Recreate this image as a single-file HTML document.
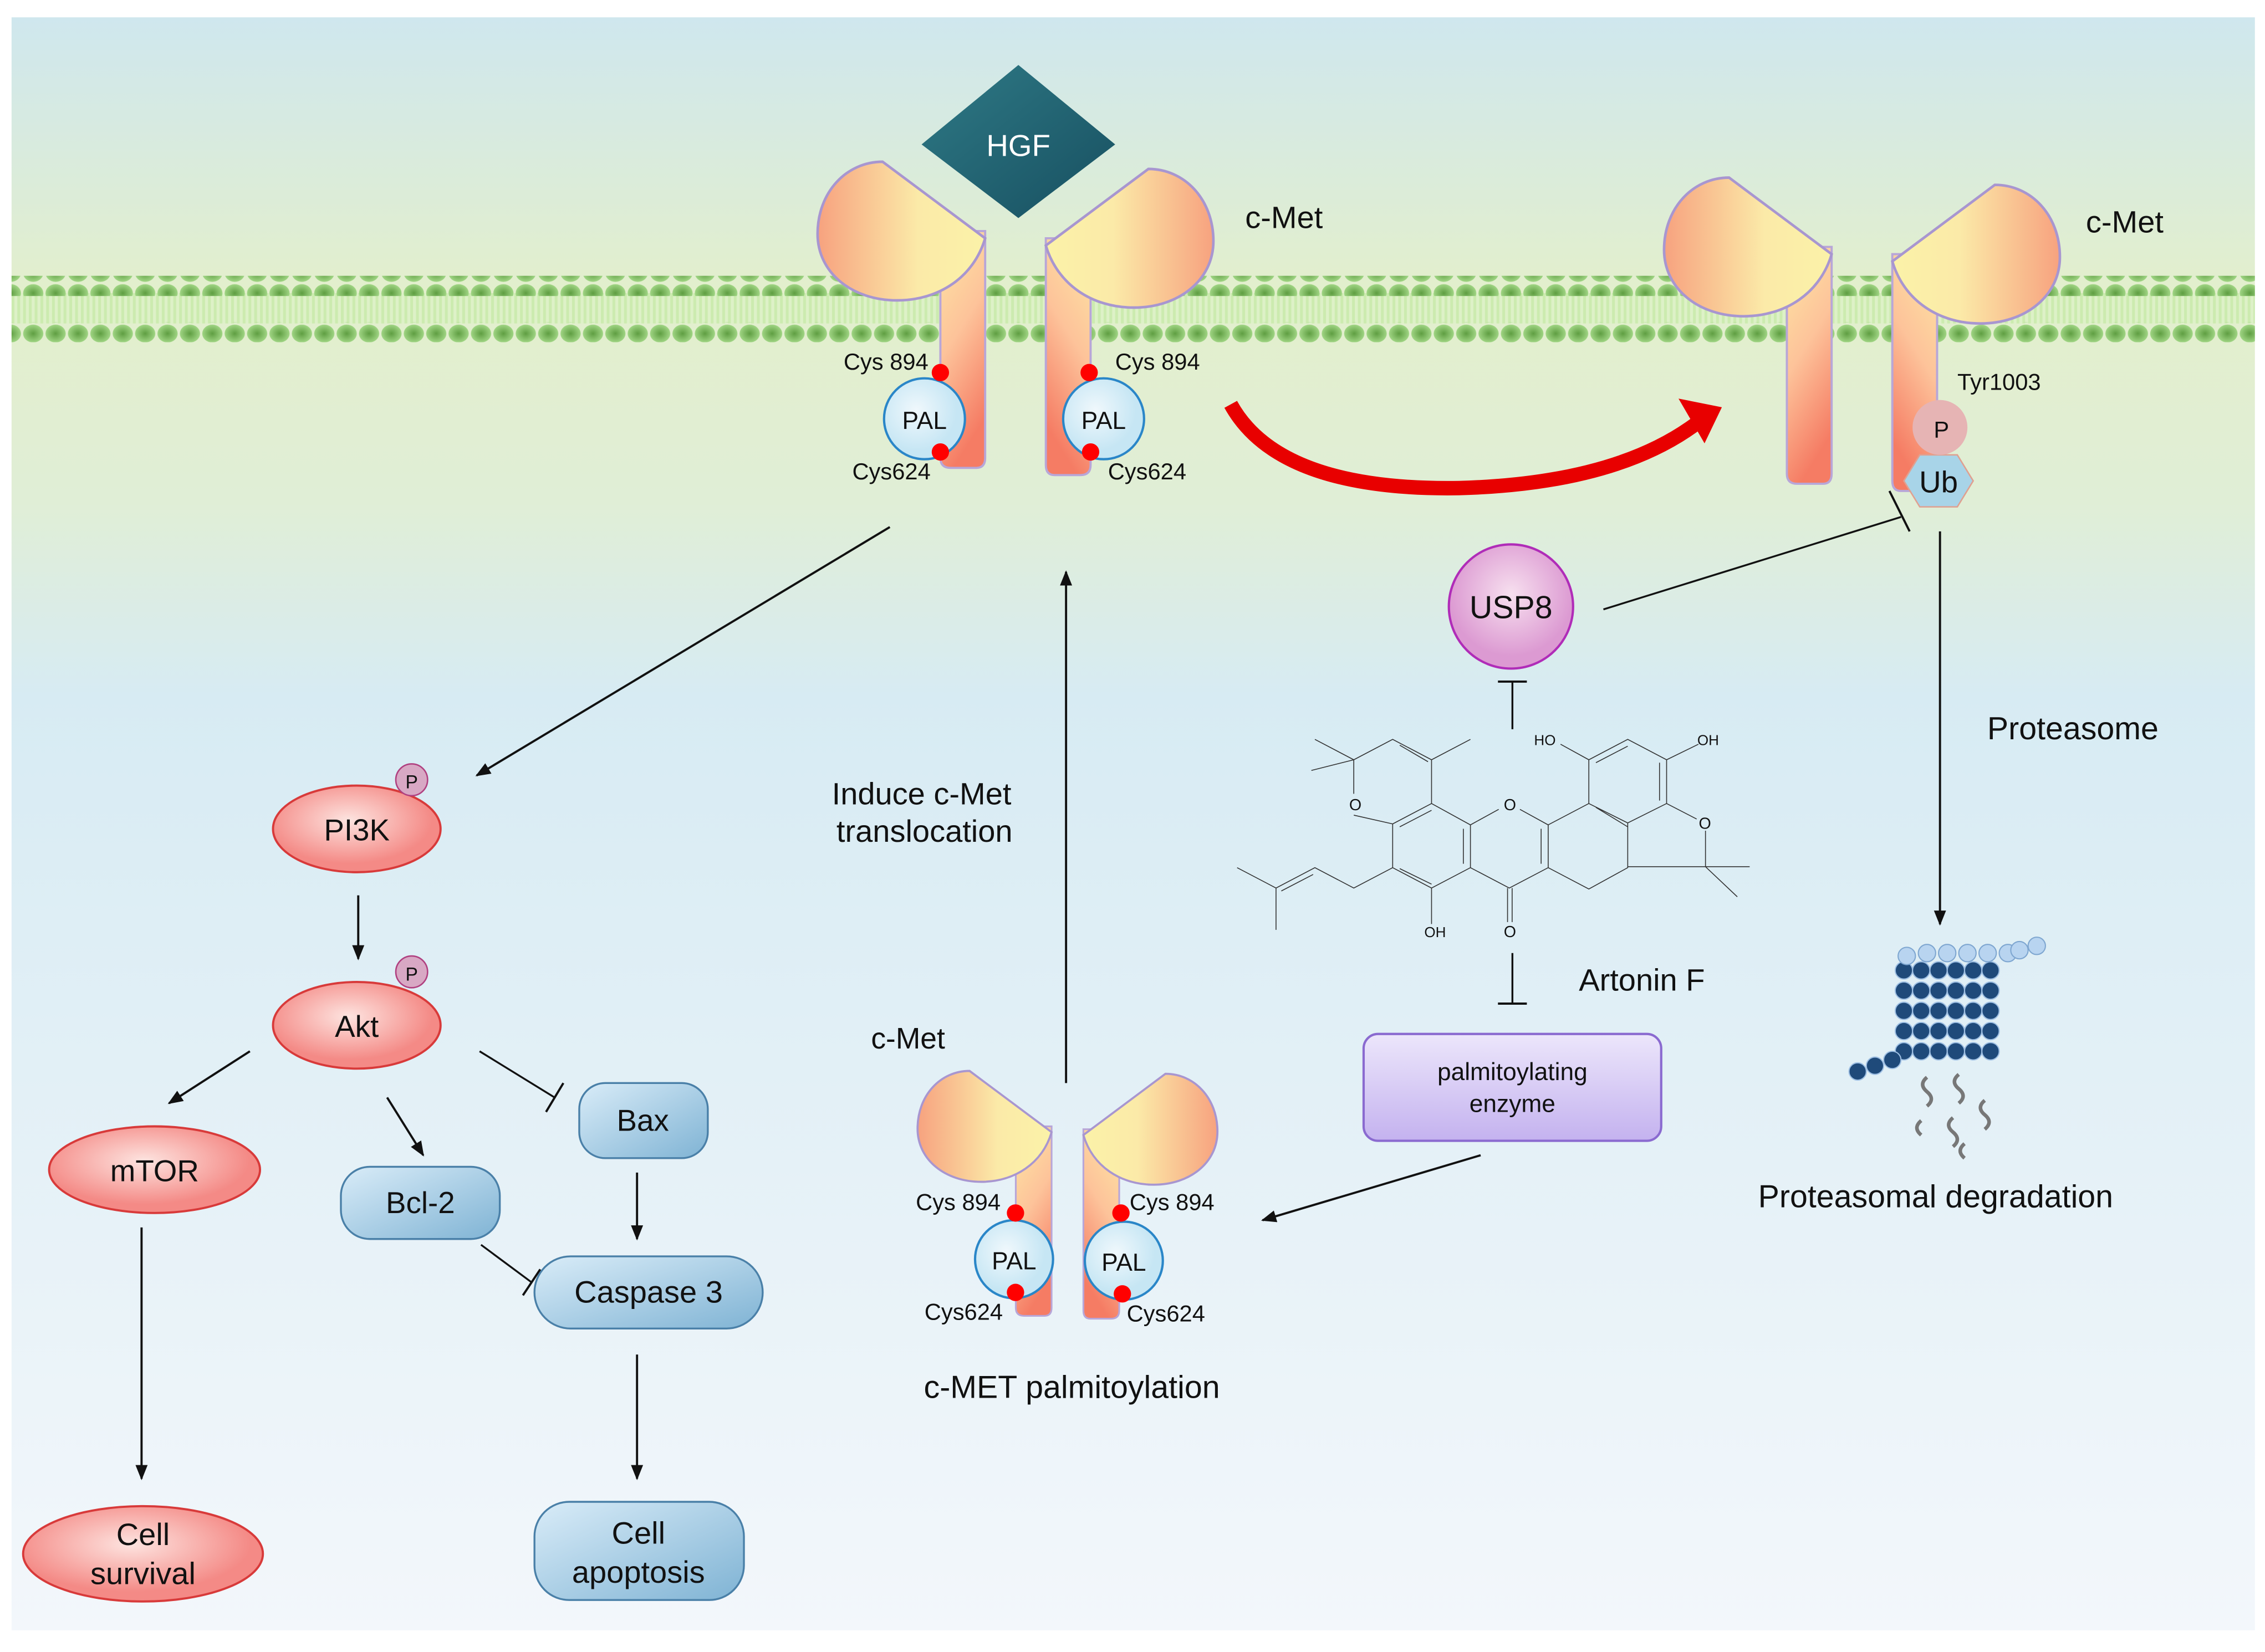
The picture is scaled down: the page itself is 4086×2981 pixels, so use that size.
<!DOCTYPE html>
<html><head><meta charset="utf-8"><style>
html,body{margin:0;padding:0;background:#fff}
svg{display:block}
text{font-family:"Liberation Sans",Arial,sans-serif;fill:#111}
</style></head><body>
<svg width="4086" height="2981" viewBox="0 0 1568 1144" preserveAspectRatio="none" xmlns="http://www.w3.org/2000/svg">
<defs>
<linearGradient id="bg" x1="0" y1="0" x2="0" y2="1">
<stop offset="0" stop-color="#cfe7ee"/><stop offset="0.17" stop-color="#e3efcc"/><stop offset="0.3" stop-color="#e0eed6"/><stop offset="0.42" stop-color="#d7ebf3"/><stop offset="1" stop-color="#f3f7fb"/>
</linearGradient>
<radialGradient id="dot"><stop offset="0" stop-color="#5f9e42"/><stop offset="1" stop-color="#a0d584"/></radialGradient>
<pattern id="mem" x="0" y="0" width="15.5" height="14" patternUnits="userSpaceOnUse"><ellipse cx="7.5" cy="7" rx="7" ry="6.2" fill="url(#dot)"/></pattern>
<pattern id="tail" x="0" y="0" width="4" height="20" patternUnits="userSpaceOnUse"><rect width="2" height="20" fill="#c6eaa8"/><rect x="2" width="2" height="20" fill="#dcf1c6"/></pattern>
<linearGradient id="head" x1="0" y1="0" x2="1" y2="0"><stop offset="0" stop-color="#f7a27f"/><stop offset="0.6" stop-color="#fbeaa8"/><stop offset="1" stop-color="#fbf2a8"/></linearGradient>
<linearGradient id="stem" x1="0" y1="0" x2="0.3" y2="1"><stop offset="0" stop-color="#fde7a4"/><stop offset="0.5" stop-color="#fdc39a"/><stop offset="1" stop-color="#f57c64"/></linearGradient>
<radialGradient id="pal" cx="0.4" cy="0.4"><stop offset="0" stop-color="#f0f8fc"/><stop offset="1" stop-color="#c6e6f4"/></radialGradient>
<linearGradient id="hgf" x1="0" y1="0" x2="1" y2="1"><stop offset="0" stop-color="#2f7a86"/><stop offset="1" stop-color="#174f60"/></linearGradient>
<radialGradient id="red" cx="0.45" cy="0.4"><stop offset="0" stop-color="#fde4e0"/><stop offset="1" stop-color="#f48a86"/></radialGradient>
<linearGradient id="blue" x1="0" y1="0" x2="1" y2="1"><stop offset="0" stop-color="#d9ecf8"/><stop offset="1" stop-color="#7fb3d4"/></linearGradient>
<radialGradient id="usp" cx="0.5" cy="0.4"><stop offset="0" stop-color="#f7e0ef"/><stop offset="1" stop-color="#dc9ad2"/></radialGradient>
<linearGradient id="pe" x1="0" y1="0" x2="0" y2="1"><stop offset="0" stop-color="#ece6fb"/><stop offset="1" stop-color="#c4b2ef"/></linearGradient>
<marker id="ar" viewBox="0 0 10 10" refX="9" refY="5" markerWidth="7" markerHeight="7" orient="auto-start-reverse"><path d="M0,1 L10,5 L0,9 Z" fill="#111"/></marker>
<g id="rec">
 <path d="M-31,-5 L-31,152 Q-31,159 -24,159 L-6,159 Q0,159 0,152 L0,-5 Z" fill="url(#stem)" stroke="#b8a6d8" stroke-width="1.5"/>
 <path d="M-71,-53 L0,0 C-8,27 -32,43 -61,43 C-92,43 -116,24 -116,-3 C-116,-32 -96,-53 -71,-53 Z" fill="url(#head)" stroke="#a896d0" stroke-width="1.8"/>
</g>
</defs>
<rect width="1568" height="1144" fill="#fff"/>
<rect x="8" y="12" width="1553" height="1117" fill="url(#bg)"/>
<rect x="8" y="203" width="1553" height="21" fill="url(#tail)" opacity="0.8"/>
<rect x="8" y="191" width="1553" height="14" fill="url(#mem)"/>
<rect x="8" y="223" width="1553" height="14" fill="url(#mem)"/>

<polygon points="705,45 772,100 705,151 638,100" fill="url(#hgf)"/>
<text x="705" y="108" font-size="21" text-anchor="middle" style="fill:#fff">HGF</text>

<use href="#rec" transform="translate(682,165)"/>
<use href="#rec" transform="translate(724,170) scale(-1,1)"/>
<text x="862" y="158" font-size="21.5">c-Met</text>
<circle cx="640" cy="290" r="28" fill="url(#pal)" stroke="#2a86c8" stroke-width="1.6"/>
<circle cx="764" cy="290" r="28" fill="url(#pal)" stroke="#2a86c8" stroke-width="1.6"/>
<text x="640" y="297" font-size="17" text-anchor="middle">PAL</text>
<text x="764" y="297" font-size="17" text-anchor="middle">PAL</text>
<circle cx="651" cy="258" r="6" fill="#f00"/><circle cx="651" cy="313" r="6" fill="#f00"/>
<circle cx="754" cy="258" r="6" fill="#f00"/><circle cx="755" cy="313" r="6" fill="#f00"/>
<text x="584" y="256" font-size="16">Cys 894</text>
<text x="590" y="332" font-size="16">Cys624</text>
<text x="772" y="256" font-size="16">Cys 894</text>
<text x="767" y="332" font-size="16">Cys624</text>

<path d="M852,280 Q885,340 1010,338 Q1120,335 1176,292" fill="none" stroke="#e80000" stroke-width="10"/>
<polygon points="1162,276 1192,282 1180,307" fill="#e80000"/>

<use href="#rec" transform="translate(1268,176)"/>
<use href="#rec" transform="translate(1310,181) scale(-1,1)"/>
<text x="1444" y="161" font-size="21.5">c-Met</text>
<text x="1355" y="270" font-size="16">Tyr1003</text>
<polygon points="1329,315 1355,315 1366,333 1355,351 1329,351 1318,333" fill="#a8d4e8" stroke="#e0a090" stroke-width="1"/>
<text x="1342" y="341" font-size="21" text-anchor="middle">Ub</text>
<circle cx="1343" cy="296" r="19" fill="#e6b4b4"/>
<text x="1344" y="303" font-size="16" text-anchor="middle">P</text>

<line x1="1110" y1="422" x2="1316" y2="358" stroke="#111" stroke-width="1.3"/>
<line x1="1308" y1="340" x2="1322" y2="368" stroke="#111" stroke-width="1.5"/>
<circle cx="1046" cy="420" r="43" fill="url(#usp)" stroke="#b02cb8" stroke-width="1.6"/>
<text x="1046" y="428" font-size="22" text-anchor="middle">USP8</text>
<line x1="1047" y1="505" x2="1047" y2="472" stroke="#111" stroke-width="1.3"/>
<line x1="1037" y1="472" x2="1057" y2="472" stroke="#111" stroke-width="1.5"/>

<g transform="translate(844.2,479.7) scale(0.2447,0.1346)" fill="none" stroke="#333" stroke-width="1.6">
<path vector-effect="non-scaling-stroke" d="M380,345 L490,240 L600,345 L600,570 M380,345 L380,520 M380,630 L490,675 M380,345 L270,240 M380,345 L260,400 M600,345 L710,240 M510,270 L590,355"/>
<path vector-effect="non-scaling-stroke" d="M600,570 L710,680 L710,900 L600,1005 L490,900 L490,675 L600,570 M510,690 L600,605 M690,700 L690,880 M510,905 L600,985"/>
<path vector-effect="non-scaling-stroke" d="M710,680 L790,600 M850,600 L930,680 L930,900 L820,1005 L710,900 M910,700 L910,880 M815,1005 L815,1180 M828,1005 L828,1180"/>
<path vector-effect="non-scaling-stroke" d="M930,680 L1045,570 L1045,345 L1155,240 L1265,345 L1265,570 L1155,670 L1045,570 M1065,360 L1155,275 M1245,360 L1245,555 M1065,590 L1155,690 M1045,345 L965,265 M1265,345 L1355,265"/>
<path vector-effect="non-scaling-stroke" d="M930,900 L1045,1010 L1155,900 L1155,670 M1265,570 L1350,650 M1375,710 L1375,895 L1155,895 M1375,895 L1500,895 M1375,895 L1465,1050"/>
<path vector-effect="non-scaling-stroke" d="M490,900 L380,1005 L270,900 L160,1005 L50,900 M160,1005 L160,1220 M265,935 L175,1020 M600,1005 L600,1190"/>
</g>
<text x="1062" y="516" font-size="10">HO</text>
<text x="1175" y="516" font-size="10">OH</text>
<text x="986" y="649" font-size="10">OH</text>
<text x="934" y="561" font-size="11">O</text>
<text x="1041" y="561" font-size="11">O</text>
<text x="1176" y="574" font-size="11">O</text>
<text x="1041" y="649" font-size="11">O</text>
<text x="1093" y="686" font-size="21.5">Artonin F</text>

<line x1="1047" y1="660" x2="1047" y2="695" stroke="#111" stroke-width="1.3"/>
<line x1="1037" y1="695" x2="1057" y2="695" stroke="#111" stroke-width="1.5"/>
<rect x="944" y="716" width="206" height="74" rx="10" fill="url(#pe)" stroke="#8a6ad0" stroke-width="1.6"/>
<text x="1047" y="748" font-size="17" text-anchor="middle">palmitoylating</text>
<text x="1047" y="770" font-size="17" text-anchor="middle">enzyme</text>
<line x1="1025" y1="800" x2="874" y2="845" stroke="#111" stroke-width="1.5" marker-end="url(#ar)"/>

<line x1="1343" y1="368" x2="1343" y2="640" stroke="#111" stroke-width="1.5" marker-end="url(#ar)"/>
<text x="1435" y="512" font-size="22" text-anchor="middle">Proteasome</text>
<g>
<g fill="#1f4a7a" stroke="#9fc0e4" stroke-width="0.8">
<circle cx="1318" cy="672" r="6"/><circle cx="1330" cy="672" r="6"/><circle cx="1342" cy="672" r="6"/><circle cx="1354" cy="672" r="6"/><circle cx="1366" cy="672" r="6"/><circle cx="1378" cy="672" r="6"/>
<circle cx="1318" cy="686" r="6"/><circle cx="1330" cy="686" r="6"/><circle cx="1342" cy="686" r="6"/><circle cx="1354" cy="686" r="6"/><circle cx="1366" cy="686" r="6"/><circle cx="1378" cy="686" r="6"/>
<circle cx="1318" cy="700" r="6"/><circle cx="1330" cy="700" r="6"/><circle cx="1342" cy="700" r="6"/><circle cx="1354" cy="700" r="6"/><circle cx="1366" cy="700" r="6"/><circle cx="1378" cy="700" r="6"/>
<circle cx="1318" cy="714" r="6"/><circle cx="1330" cy="714" r="6"/><circle cx="1342" cy="714" r="6"/><circle cx="1354" cy="714" r="6"/><circle cx="1366" cy="714" r="6"/><circle cx="1378" cy="714" r="6"/>
<circle cx="1318" cy="728" r="6"/><circle cx="1330" cy="728" r="6"/><circle cx="1342" cy="728" r="6"/><circle cx="1354" cy="728" r="6"/><circle cx="1366" cy="728" r="6"/><circle cx="1378" cy="728" r="6"/>
<circle cx="1286" cy="742" r="6"/><circle cx="1298" cy="738" r="6"/><circle cx="1310" cy="734" r="6"/>
</g>
<g fill="#b8d4f0" stroke="#7ea6d0" stroke-width="0.8">
<circle cx="1320" cy="662" r="6"/><circle cx="1334" cy="660" r="6"/><circle cx="1348" cy="660" r="6"/><circle cx="1362" cy="660" r="6"/><circle cx="1376" cy="660" r="6"/><circle cx="1390" cy="660" r="6"/><circle cx="1398" cy="658" r="6"/><circle cx="1410" cy="655" r="6"/>
</g>
<g fill="none" stroke="#777" stroke-width="2.5">
<path d="M1334,746 q-6,5 0,10 q6,5 0,10"/><path d="M1356,744 q-6,5 0,10 q6,5 0,10"/><path d="M1374,762 q-6,5 0,10 q6,5 0,10"/>
<path d="M1330,776 q-6,5 0,10"/><path d="M1352,774 q-6,5 0,10 q6,5 0,10"/><path d="M1360,792 q-6,5 0,10"/>
</g>
</g>
<text x="1340" y="836" font-size="22" text-anchor="middle">Proteasomal degradation</text>

<line x1="738" y1="750" x2="738" y2="396" stroke="#111" stroke-width="1.5" marker-end="url(#ar)"/>
<text x="638" y="557" font-size="21.5" text-anchor="middle">Induce c-Met</text>
<text x="640" y="583" font-size="21.5" text-anchor="middle">translocation</text>
<use href="#rec" transform="translate(728,784) scale(0.8)"/>
<use href="#rec" transform="translate(750,786) scale(-0.8,0.8)"/>
<text x="603" y="726" font-size="20.5">c-Met</text>
<circle cx="702" cy="872" r="27" fill="url(#pal)" stroke="#2a86c8" stroke-width="1.6"/>
<circle cx="778" cy="873" r="27" fill="url(#pal)" stroke="#2a86c8" stroke-width="1.6"/>
<text x="702" y="879" font-size="17" text-anchor="middle">PAL</text>
<text x="778" y="880" font-size="17" text-anchor="middle">PAL</text>
<circle cx="703" cy="840" r="6" fill="#f00"/><circle cx="703" cy="895" r="6" fill="#f00"/>
<circle cx="776" cy="840" r="6" fill="#f00"/><circle cx="777" cy="896" r="6" fill="#f00"/>
<text x="634" y="838" font-size="16">Cys 894</text>
<text x="640" y="914" font-size="16">Cys624</text>
<text x="782" y="838" font-size="16">Cys 894</text>
<text x="780" y="915" font-size="16">Cys624</text>
<text x="742" y="968" font-size="22" text-anchor="middle">c-MET palmitoylation</text>

<line x1="616" y1="365" x2="330" y2="537" stroke="#111" stroke-width="1.5" marker-end="url(#ar)"/>
<ellipse cx="247" cy="574" rx="58" ry="30" fill="url(#red)" stroke="#d83a3a" stroke-width="1.5"/>
<text x="247" y="582" font-size="21" text-anchor="middle">PI3K</text>
<circle cx="285" cy="540" r="11" fill="#d8a8c4" stroke="#b04080" stroke-width="1"/>
<text x="285" y="546" font-size="13" text-anchor="middle">P</text>
<line x1="248" y1="620" x2="248" y2="664" stroke="#111" stroke-width="1.5" marker-end="url(#ar)"/>
<ellipse cx="247" cy="710" rx="58" ry="30" fill="url(#red)" stroke="#d83a3a" stroke-width="1.5"/>
<text x="247" y="718" font-size="21" text-anchor="middle">Akt</text>
<circle cx="285" cy="673" r="11" fill="#d8a8c4" stroke="#b04080" stroke-width="1"/>
<text x="285" y="679" font-size="13" text-anchor="middle">P</text>
<line x1="173" y1="728" x2="117" y2="764" stroke="#111" stroke-width="1.5" marker-end="url(#ar)"/>
<line x1="268" y1="760" x2="293" y2="800" stroke="#111" stroke-width="1.5" marker-end="url(#ar)"/>
<line x1="332" y1="728" x2="384" y2="760" stroke="#111" stroke-width="1.3"/>
<line x1="378" y1="770" x2="390" y2="750" stroke="#111" stroke-width="1.5"/>
<ellipse cx="107" cy="810" rx="73" ry="30" fill="url(#red)" stroke="#d83a3a" stroke-width="1.5"/>
<text x="107" y="818" font-size="21" text-anchor="middle">mTOR</text>
<rect x="236" y="808" width="110" height="50" rx="20" fill="url(#blue)" stroke="#4a80a8" stroke-width="1.3"/>
<text x="291" y="840" font-size="21" text-anchor="middle">Bcl-2</text>
<rect x="401" y="750" width="89" height="52" rx="18" fill="url(#blue)" stroke="#4a80a8" stroke-width="1.3"/>
<text x="445" y="783" font-size="21" text-anchor="middle">Bax</text>
<line x1="441" y1="812" x2="441" y2="858" stroke="#111" stroke-width="1.5" marker-end="url(#ar)"/>
<line x1="333" y1="862" x2="368" y2="888" stroke="#111" stroke-width="1.3"/>
<line x1="362" y1="897" x2="374" y2="879" stroke="#111" stroke-width="1.5"/>
<rect x="370" y="870" width="158" height="50" rx="25" fill="url(#blue)" stroke="#4a80a8" stroke-width="1.3"/>
<text x="449" y="902" font-size="21.5" text-anchor="middle">Caspase 3</text>
<line x1="441" y1="938" x2="441" y2="1024" stroke="#111" stroke-width="1.5" marker-end="url(#ar)"/>
<rect x="370" y="1040" width="145" height="68" rx="24" fill="url(#blue)" stroke="#4a80a8" stroke-width="1.3"/>
<text x="442" y="1069" font-size="21.5" text-anchor="middle">Cell</text>
<text x="442" y="1096" font-size="21.5" text-anchor="middle">apoptosis</text>
<line x1="98" y1="850" x2="98" y2="1024" stroke="#111" stroke-width="1.5" marker-end="url(#ar)"/>
<ellipse cx="99" cy="1076" rx="83" ry="33" fill="url(#red)" stroke="#d83a3a" stroke-width="1.5"/>
<text x="99" y="1070" font-size="21.5" text-anchor="middle">Cell</text>
<text x="99" y="1097" font-size="21.5" text-anchor="middle">survival</text>
</svg>
</body></html>
